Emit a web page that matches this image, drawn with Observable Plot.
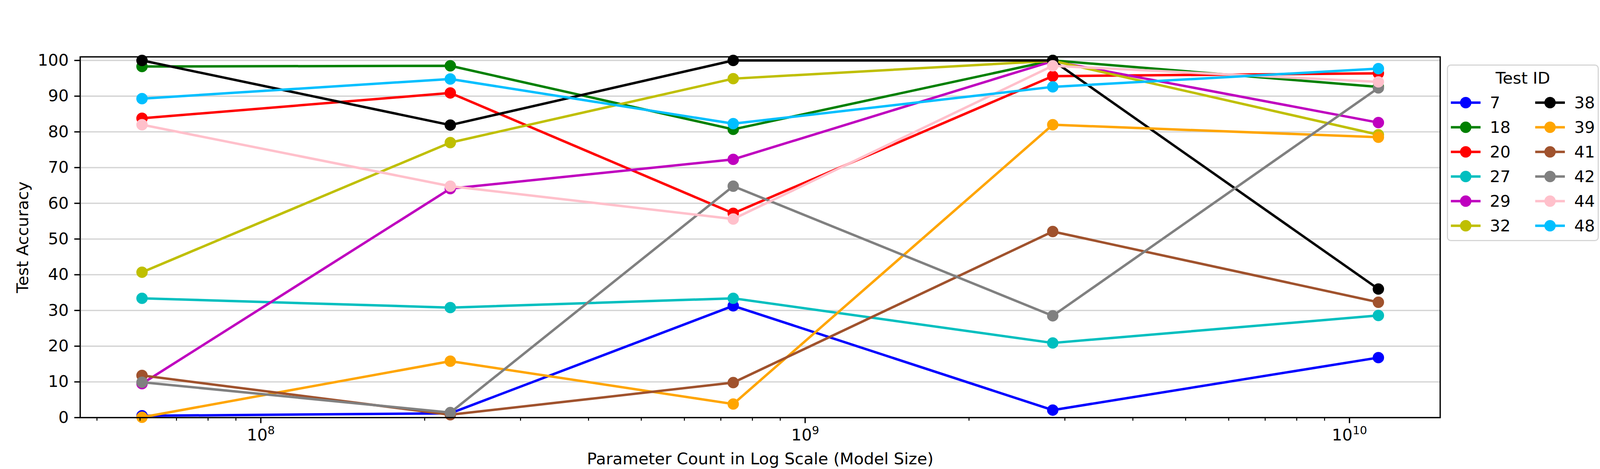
<!DOCTYPE html>
<html>
<head>
<meta charset="utf-8">
<script src="https://cdn.jsdelivr.net/npm/d3@7"></script>
<script src="https://cdn.jsdelivr.net/npm/@observablehq/plot@0.6"></script>
<style>
  html, body { margin: 0; padding: 0; background: #fff; overflow: hidden; }
  #fig { position: relative; height: 1200px; font-family: "DejaVu Sans", sans-serif; }
  #fig > svg { position: absolute; left: 0; top: 0; }
  #legend { position: absolute; box-sizing: border-box; border: 3.5px solid #d6d6d6; border-radius: 10px;
            background: rgba(255,255,255,0.8); }
  #legend svg { position: absolute; left: -3.5px; top: -3.5px; overflow: visible; }
</style>
</head>
<body>
<div id="fig"></div>
<script>
// ---- data ----
const testIds = ["7", "18", "20", "27", "29", "32", "38", "39", "41", "42", "44", "48"];
const seriesColors = ["#0000ff", "#008000", "#ff0000", "#00bfbf", "#bf00bf", "#bfbf00",
                      "#000000", "#ffa500", "#a0522d", "#808080", "#ffc0cb", "#00bfff"];
const paramCounts = [60.5e6, 222.9e6, 737.7e6, 2.85e9, 11.3e9];

const acc7  = [0.5, 1.2, 31.3, 2.1, 16.8];
const acc18 = [98.3, 98.5, 80.7, 100, 92.6];
const acc20 = [83.8, 90.9, 57.2, 95.6, 96.4];
const acc27 = [33.4, 30.8, 33.4, 20.9, 28.6];
const acc29 = [9.5, 64.1, 72.3, 99.8, 82.6];
const acc32 = [40.7, 77.0, 94.9, 99.9, 79.2];
const acc38 = [100, 81.9, 100, 100, 36.0];
const acc39 = [0.1, 15.8, 3.8, 82.0, 78.5];
const acc41 = [11.8, 0.8, 9.8, 52.1, 32.3];
const acc42 = [9.9, 1.4, 64.8, 28.5, 92.3];
const acc44 = [82.0, 64.8, 55.6, 98.5, 94.0];
const acc48 = [89.3, 94.8, 82.3, 92.6, 97.7];
const accuracies = [acc7, acc18, acc20, acc27, acc29, acc32, acc38, acc39, acc41, acc42, acc44, acc48];

const yTicks = [0, 10, 20, 30, 40, 50, 60, 70, 80, 90, 100];
const xMajorTicks = [1e8, 1e9, 1e10];
const yDomain = [0, 101];

// ---- layout (the window may be narrower than the 4800px design width) ----
const W = Math.min(4800, window.innerWidth || 4800);
const H = 1200;
const sx = W / 4800;
const FS = 41.67;
const LW = 6.25;

// ---- derived ----
const logExt = d3.extent(paramCounts).map(Math.log10);
const padLog = (logExt[1] - logExt[0]) * 0.05;
const xDomain = [10 ** (logExt[0] - padLog), 10 ** (logExt[1] + padLog)];
const xMinorTicks = [];
for (let e = 7; e <= 10; e++) for (let m = 2; m <= 9; m++) {
  const v = m * 10 ** e;
  if (v >= xDomain[0] && v <= xDomain[1]) xMinorTicks.push(v);
}

const marks = [Plot.gridY(yTicks, {stroke: "#b0b0b0", strokeOpacity: 0.55, strokeWidth: 3.33})];
testIds.forEach((id, i) => {
  const rows = paramCounts.map((p, j) => ({id, params: p, acc: accuracies[i][j]}));
  marks.push(Plot.line(rows, {x: "params", y: "acc", stroke: seriesColors[i], strokeWidth: LW,
                              strokeLinejoin: "round", strokeLinecap: "square"}));
  marks.push(Plot.dot(rows, {x: "params", y: "acc", r: 12.5, fill: seriesColors[i],
                             stroke: seriesColors[i], strokeWidth: 4.17}));
});
marks.push(Plot.axisY(yTicks, {tickSize: 14.6, tickPadding: 14.6, strokeWidth: 3.33, fontSize: FS,
  tickFormat: d => String(d), label: "Test Accuracy", labelAnchor: "center", labelArrow: "none", labelOffset: 163}));
marks.push(Plot.axisX(xMinorTicks, {tickSize: 8.33, strokeWidth: 2.5, tickFormat: () => "", label: null}));
marks.push(Plot.axisX(xMajorTicks, {tickSize: 14.6, tickPadding: 14.6, strokeWidth: 3.33, fontSize: FS,
  tickFormat: d => "10^" + Math.round(Math.log10(d)),
  label: "Parameter Count in Log Scale (Model Size)", labelAnchor: "center", labelArrow: "none", labelOffset: 119}));
marks.push(Plot.frame({stroke: "black", strokeWidth: 3.33}));

const chart = Plot.plot({
  width: W, height: H,
  marginLeft: 240 * sx, marginRight: 480 * sx, marginTop: 145, marginBottom: 132,
  x: {type: "log", domain: xDomain},
  y: {domain: yDomain},
  style: {fontFamily: "DejaVu Sans", fontSize: FS + "px", color: "black", background: "white", overflow: "visible"},
  marks
});

// superscript exponents for log tick labels
d3.select(chart).selectAll("text").each(function () {
  const m = /^10\^(\d+)$/.exec(this.textContent);
  if (m) {
    this.textContent = "10";
    const ts = document.createElementNS("http://www.w3.org/2000/svg", "tspan");
    ts.setAttribute("font-size", "0.7em");
    ts.setAttribute("dy", "-0.55em");
    ts.textContent = m[1];
    this.appendChild(ts);
  }
});

const fig = document.getElementById("fig");
fig.style.width = W + "px";
fig.appendChild(chart);

// ---- legend (upper left outside the axes, two columns) ----
const legW = 456 * sx, legH = 452;
const legend = document.createElement("div");
legend.id = "legend";
legend.style.left = (4341 * sx) + "px";
legend.style.top = "165px";
legend.style.width = legW + "px";
legend.style.height = legH + "px";
fig.appendChild(legend);
const lsvg = d3.select(legend).append("svg").attr("width", legW).attr("height", legH)
  .style("font-family", "DejaVu Sans").style("font-size", FS + "px");
lsvg.append("text").attr("x", legW / 2).attr("y", 34).attr("text-anchor", "middle")
  .attr("dominant-baseline", "central").text("Test ID");
const nRows = Math.ceil(testIds.length / 2);
testIds.forEach((id, i) => {
  const col = Math.floor(i / nRows), row = i % nRows;
  const x0 = (12 + col * 253) * sx, yc = 97.6 + row * 63.0;
  const hl = 89 * sx;
  const g = lsvg.append("g");
  g.append("line").attr("x1", x0).attr("x2", x0 + hl).attr("y1", yc).attr("y2", yc)
    .attr("stroke", seriesColors[i]).attr("stroke-width", LW);
  g.append("circle").attr("cx", x0 + hl / 2).attr("cy", yc).attr("r", 12.5)
    .attr("fill", seriesColors[i]).attr("stroke", seriesColors[i]).attr("stroke-width", 4.17);
  g.append("text").attr("x", x0 + hl + 28 * sx).attr("y", yc).attr("dominant-baseline", "central").text(id);
});
</script>
</body>
</html>
